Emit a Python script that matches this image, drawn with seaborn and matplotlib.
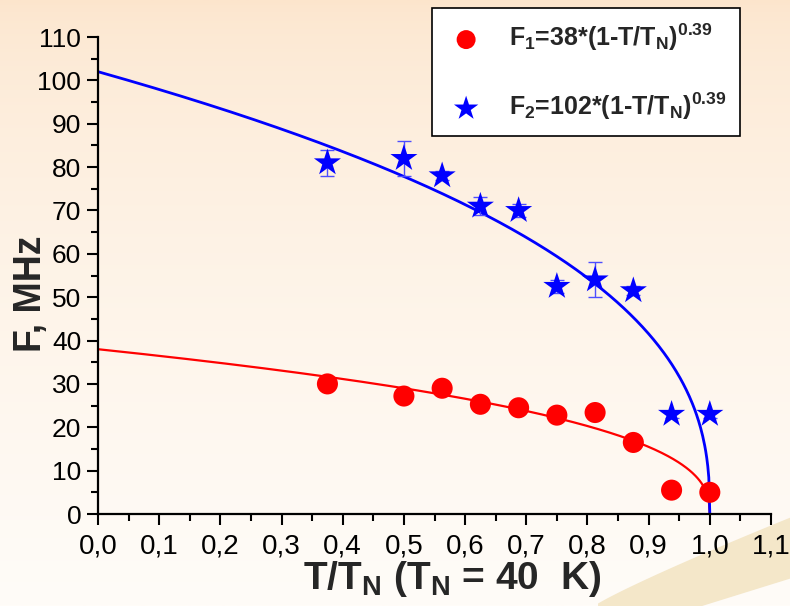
import matplotlib
matplotlib.use("Agg")
import matplotlib.pyplot as plt
import numpy as np
import pandas as pd
import seaborn as sns
from matplotlib.ticker import MultipleLocator, FuncFormatter

# ── Data ───────────────────────────────────────────────────────────────────────
t_red = [0.375, 0.5, 0.5625, 0.625, 0.6875, 0.75, 0.8125, 0.875, 0.9375, 1.0]
f_red = [30.0, 27.2, 29.0, 25.3, 24.5, 22.8, 23.4, 16.5, 5.5, 5.0]

t_blue = [0.375, 0.5, 0.5625, 0.625, 0.6875, 0.75, 0.8125, 0.875, 0.9375, 1.0]
f_blue = [81.0, 82.0, 78.0, 71.0, 70.0, 52.5, 54.0, 51.5, 23.0, 23.0]
err_blue = [3.0, 4.0, 1.0, 2.0, 1.5, 1.5, 4.0, 1.0, 0.8, 0.8]

# fit parameters: F = A * (1 - T/T_N)^beta
A1, A2, BETA = 38, 102, 0.39

label1 = r"F$_1$=38*(1-T/T$_N$)$^{0.39}$"
label2 = r"F$_2$=102*(1-T/T$_N$)$^{0.39}$"

# ── Style ──────────────────────────────────────────────────────────────────────
sns.set_style("ticks")
plt.rcParams["font.family"] = ["Liberation Sans", "DejaVu Sans"]
plt.rcParams["mathtext.fontset"] = "custom"
plt.rcParams["mathtext.rm"] = "Liberation Sans:bold"
plt.rcParams["mathtext.it"] = "Liberation Sans:bold"
plt.rcParams["mathtext.bf"] = "Liberation Sans:bold"
plt.rcParams["mathtext.default"] = "rm"

W, H = 790, 606
fig = plt.figure(figsize=(W / 100, H / 100), dpi=100)

# background gradient + light diagonal band
bg = fig.add_axes([0, 0, 1, 1], zorder=-10)
top = np.array([252, 229, 204]) / 255
bot = np.array([255, 252, 248]) / 255
w = np.linspace(0, 1, 256) ** 0.6
grad = (top[None, :] * (1 - w[:, None]) + bot[None, :] * w[:, None])[:, None, :]
bg.imshow(grad, aspect="auto", extent=[0, W, H, 0])
xb = np.linspace(560, W, 50)
upper = 606 - 89 * ((xb - 593) / 197).clip(0, 1) ** 0.9
lower = 606 - 28 * ((xb - 700) / 90).clip(0, 1)
bg.fill_between(xb, upper, lower, where=xb >= 593, color="#f4e7c9", lw=0)
bg.set_xlim(0, W)
bg.set_ylim(H, 0)
bg.axis("off")

ax = fig.add_axes([98 / W, 1 - 514 / H, 673 / W, 477 / H])
ax.set_facecolor("none")

# fit curves
tt = np.linspace(0, 1, 600)
ax.plot(tt, A1 * (1 - tt) ** BETA, color="red", lw=1.6, zorder=2)
ax.plot(tt, A2 * (1 - tt) ** BETA, color="blue", lw=2.0, zorder=2)

# data points
df_red = pd.DataFrame({"t": t_red, "f": f_red})
df_blue = pd.DataFrame({"t": t_blue, "f": f_blue})
ax.errorbar(t_blue, f_blue, yerr=err_blue, fmt="none", ecolor="#4d4dff",
            elinewidth=1.0, capsize=5, capthick=1.0, zorder=3)
sns.scatterplot(data=df_red, x="t", y="f", ax=ax, color="red", marker="o",
                s=230, edgecolor="none", label=label1, zorder=4)
sns.scatterplot(data=df_blue, x="t", y="f", ax=ax, color="blue", marker="*",
                s=420, edgecolor="none", label=label2, zorder=4)

ax.set_xlim(0, 1.1)
ax.set_ylim(0, 110)
ax.xaxis.set_major_locator(MultipleLocator(0.1))
ax.xaxis.set_minor_locator(MultipleLocator(0.05))
ax.yaxis.set_major_locator(MultipleLocator(10))
ax.yaxis.set_minor_locator(MultipleLocator(5))
ax.xaxis.set_major_formatter(FuncFormatter(lambda v, p: f"{v:.1f}".replace(".", ",")))
ax.yaxis.set_major_formatter(FuncFormatter(lambda v, p: f"{v:.0f}"))

for s in ["top", "right"]:
    ax.spines[s].set_visible(False)
for s in ["left", "bottom"]:
    ax.spines[s].set_linewidth(1.6)
    ax.spines[s].set_color("black")
ax.tick_params(which="major", direction="out", length=8, width=1.5, colors="black")
ax.tick_params(which="minor", direction="out", length=5, width=1.5, colors="black")
ax.tick_params(axis="y", labelsize=19, pad=4)
ax.tick_params(axis="x", labelsize=20, pad=6)
for lbl in ax.get_xticklabels():
    lbl.set_family(["Liberation Sans Narrow", "Liberation Sans", "DejaVu Sans"])

ax.set_xlabel(r"T/T$_N$ (T$_N$ = 40  K)", fontsize=28, fontweight="bold")
ax.set_ylabel("F, MHz", fontsize=27, fontweight="bold")
ax.xaxis.set_label_coords(0.526, -0.095)
ax.yaxis.set_label_coords(-0.073, 0.461)

leg = ax.legend(loc="upper right", bbox_to_anchor=(740 / W, 1 - 8 / H),
                bbox_transform=fig.transFigure, frameon=True, fancybox=False,
                edgecolor="black", framealpha=1, prop={"weight": "bold", "size": 18},
                borderpad=0.55, labelspacing=1.5, handlelength=1.6, handletextpad=0.9,
                borderaxespad=0, markerscale=0.9)
leg.get_frame().set_linewidth(1.2)

fig.savefig("out.png", dpi=100)
